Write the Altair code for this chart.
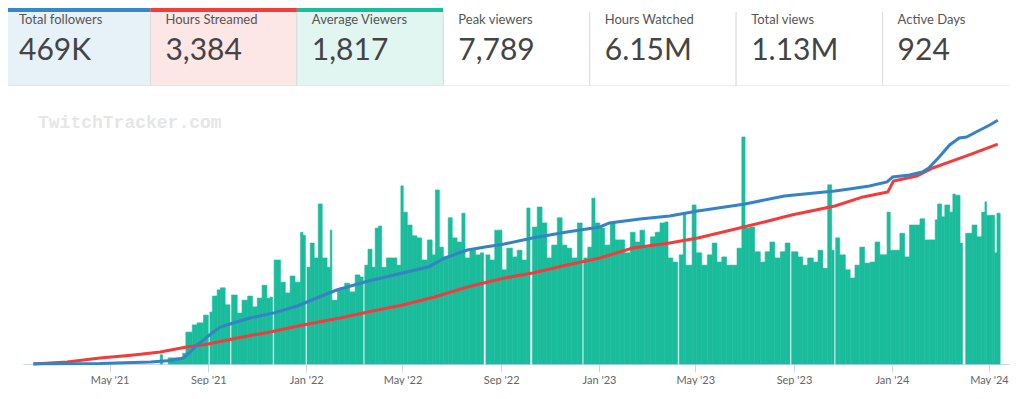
import altair as alt
import pandas as pd

# ---------------- data ----------------
card_labels = ["Total followers", "Hours Streamed", "Average Viewers", "Peak viewers",
               "Hours Watched", "Total views", "Active Days"]
card_values = ["469K", "3,384", "1,817", "7,789", "6.15M", "1.13M", "924"]

tick_months = ["2021-05-01", "2021-09-01", "2022-01-01", "2022-05-01", "2022-09-01",
               "2023-01-01", "2023-05-01", "2023-09-01", "2024-01-01", "2024-05-01"]

watermark = "TwitchTracker.com"

follower_dates = ["2021-01-26", "2021-04-19", "2021-06-21", "2021-07-16", "2021-08-01", "2021-08-09",
                  "2021-08-18", "2021-08-26", "2021-09-01", "2021-09-09", "2021-09-16", "2021-10-02",
                  "2021-10-23", "2021-11-21", "2021-12-21", "2022-01-14", "2022-02-08", "2022-03-15",
                  "2022-05-01", "2022-06-02", "2022-06-23", "2022-07-21", "2022-08-12", "2022-09-05",
                  "2022-10-10", "2022-11-22", "2023-01-02", "2023-01-14", "2023-02-21", "2023-03-30",
                  "2023-05-04", "2023-07-02", "2023-08-20", "2023-10-22", "2023-11-09", "2023-12-04",
                  "2023-12-26", "2024-01-02", "2024-01-23", "2024-02-08", "2024-02-16", "2024-02-29",
                  "2024-03-13", "2024-03-25", "2024-04-03", "2024-04-15", "2024-05-02", "2024-05-12"]
followers_k = [0.3, 1.0, 3.8, 6.7, 11.5, 23, 36.6, 46, 54, 63.5, 71, 79,
               88.5, 98, 111.6, 127, 142.4, 157.8, 175, 186.7, 204, 219.4, 225, 231,
               242.5, 254, 263.7, 271.4, 279, 284.8, 294.4, 308, 323.3, 333, 336.8, 342.6,
               350.3, 360, 363.7, 369.5, 377, 398.4, 421.5, 435, 436.9, 446.5, 460, 469]

hours_dates = ["2021-01-26", "2021-03-09", "2021-04-19", "2021-05-31", "2021-07-03", "2021-08-05",
               "2021-09-01", "2021-10-07", "2021-11-17", "2021-12-28", "2022-02-12", "2022-03-19",
               "2022-05-01", "2022-06-10", "2022-07-21", "2022-09-05", "2022-10-10", "2022-11-22",
               "2023-01-02", "2023-02-12", "2023-03-30", "2023-05-04", "2023-06-15", "2023-07-26",
               "2023-08-29", "2023-10-22", "2023-11-26", "2023-12-27", "2024-01-03", "2024-02-01",
               "2024-02-21", "2024-03-13", "2024-04-03", "2024-04-23", "2024-05-12"]
hours_streamed = [0, 31, 92, 139, 185, 262, 308, 400, 493, 600, 708, 801,
                  909, 1032, 1186, 1324, 1401, 1525, 1632, 1786, 1863, 1940, 2064, 2187,
                  2295, 2433, 2572, 2649, 2818, 2895, 3018, 3111, 3203, 3296, 3384]

bar_starts = [
    "2021-07-03", "2021-07-06", "2021-07-13", "2021-07-31",
    "2021-08-04", "2021-08-12", "2021-08-18", "2021-08-26", "2021-09-01",
    "2021-09-03", "2021-09-06", "2021-09-12", "2021-09-16", "2021-09-22", "2021-09-28",
    "2021-09-30", "2021-10-07", "2021-10-13", "2021-10-20", "2021-10-26", "2021-11-01", "2021-11-07",
    "2021-11-13", "2021-11-17", "2021-11-20",
    "2021-11-22", "2021-11-30", "2021-12-06", "2021-12-12", "2021-12-18", "2021-12-25", "2021-12-28",
    "2021-12-31",
    "2022-01-02", "2022-01-06", "2022-01-11", "2022-01-16", "2022-01-21", "2022-01-27", "2022-01-31",
    "2022-02-02", "2022-02-09", "2022-02-12", "2022-02-18", "2022-02-24", "2022-03-03", "2022-03-09",
    "2022-03-13",
    "2022-03-15", "2022-03-19", "2022-03-24", "2022-03-28", "2022-04-01", "2022-04-05", "2022-04-11",
    "2022-04-18", "2022-04-24", "2022-04-29", "2022-05-02", "2022-05-07", "2022-05-13", "2022-05-19",
    "2022-05-25", "2022-06-01", "2022-06-07", "2022-06-11", "2022-06-16", "2022-06-21", "2022-06-27",
    "2022-07-02", "2022-07-08", "2022-07-14", "2022-07-18", "2022-07-24", "2022-07-31", "2022-08-06",
    "2022-08-10",
    "2022-08-13", "2022-08-18", "2022-08-24", "2022-08-31", "2022-09-02", "2022-09-08", "2022-09-15",
    "2022-09-21", "2022-09-27", "2022-10-03", "2022-10-07",
    "2022-10-10", "2022-10-16", "2022-10-22", "2022-10-28", "2022-11-03", "2022-11-10", "2022-11-16",
    "2022-11-22", "2022-11-28", "2022-12-05", "2022-12-11",
    "2022-12-13", "2022-12-18", "2022-12-23", "2022-12-27", "2023-01-02", "2023-01-08", "2023-01-15",
    "2023-01-21", "2023-01-27", "2023-02-02", "2023-02-09", "2023-02-15", "2023-02-21", "2023-02-27",
    "2023-03-06", "2023-03-12", "2023-03-18", "2023-03-24", "2023-03-28", "2023-04-03", "2023-04-09",
    "2023-04-11", "2023-04-16", "2023-04-19", "2023-04-27", "2023-05-02", "2023-05-09", "2023-05-16",
    "2023-05-22", "2023-05-28", "2023-06-03", "2023-06-09", "2023-06-16", "2023-06-22", "2023-06-28",
    "2023-07-02", "2023-07-08", "2023-07-14", "2023-07-21", "2023-07-27", "2023-08-02", "2023-08-08",
    "2023-08-15", "2023-08-21", "2023-08-27",
    "2023-08-29", "2023-09-06", "2023-09-12", "2023-09-18", "2023-09-25", "2023-10-01", "2023-10-07",
    "2023-10-13", "2023-10-18", "2023-10-21",
    "2023-10-23", "2023-10-28", "2023-11-04", "2023-11-10", "2023-11-16", "2023-11-22", "2023-11-28",
    "2023-12-05", "2023-12-11", "2023-12-17", "2023-12-26", "2023-12-30", "2024-01-05", "2024-01-11",
    "2024-01-17", "2024-01-23", "2024-01-30", "2024-02-05", "2024-02-11", "2024-02-17", "2024-02-24",
    "2024-02-27", "2024-03-03", "2024-03-07", "2024-03-13", "2024-03-17", "2024-03-20", "2024-03-26",
    "2024-03-29",
    "2024-04-02", "2024-04-10", "2024-04-16", "2024-04-22", "2024-04-26", "2024-04-28", "2024-05-05",
    "2024-05-08", "2024-05-11",
]
bar_viewers = [
    180, 0, 120, 210,
    620, 760, 800, 950, 0,
    1010, 1320, 1440, 1480, 1150, 0,
    1340, 990, 1240, 1320, 1110, 1280, 1530,
    1280, 1300, 0,
    2020, 1590, 1380, 1710, 1590, 2560, 2500,
    0,
    1880, 2350, 2060, 3110, 2060, 1880, 2600,
    1240, 1440, 1480, 1570, 1400, 1730, 1690,
    0,
    1920, 2230, 1880, 2640, 2680, 1880, 2060,
    2060, 1920, 3460, 2950, 2700, 2490, 2450,
    2020, 2410, 2120, 3380, 2270, 2080, 2840,
    2450, 2370, 2930, 2060, 2210, 2120, 2160,
    0,
    2120, 2020, 2600, 2600, 1830, 2250, 2080,
    2210, 2020, 3030, 0,
    2660, 3050, 2740, 2060, 2310, 2840, 2310,
    2250, 2060, 2740, 0,
    2060, 2270, 3220, 2740, 2640, 2310, 2740,
    2410, 2410, 2160, 2560, 2370, 2600, 2270,
    2470, 2560, 2740, 2760, 2060, 1980, 0,
    2120, 2930, 1920, 3090, 2160, 1920, 2120,
    2350, 1980, 2080, 1920, 1920, 2250, 4410,
    2640, 2660, 2180, 1980, 2180, 2370, 2060,
    2180, 2350, 0,
    2180, 2080, 1920, 2060, 1980, 2210, 1860,
    3480, 2210, 0,
    2450, 2120, 1830, 1670, 1920, 2270, 1960,
    1980, 2370, 2120, 2950, 2210, 2210, 2540,
    2080, 2700, 2700, 2820, 2410, 2410, 2800,
    3110, 2860, 3090, 2950, 3300, 3280, 2350,
    0,
    2540, 2700, 2470, 2950, 3150, 2890, 2890,
    2160, 2930,
]
bar_last_end = "2024-05-15"

# ---------------- styles ----------------
FONT = "Lato"
card_bg = ["#e6f1f8", "#fde6e6", "#e2f6f1", "#ffffff", "#ffffff", "#ffffff", "#ffffff"]
card_strip = ["#3a86c6", "#f53c3c", "#1bbc9b", "#ffffff", "#ffffff", "#ffffff", "#ffffff"]
BAR_COLOR = "#1abc9c"
BLUE = "#3583c5"
RED = "#f33b3b"
W = 1002

# ---------------- cards row ----------------
cards_df = pd.DataFrame({"idx": list(range(len(card_labels))),
                         "label": card_labels, "value": card_values})
xcard = alt.X("idx:Q", scale=alt.Scale(domain=[0.0273, 6.870], nice=False, zero=False), axis=None)
cbase = alt.Chart(cards_df).transform_calculate(idx_end="datum.idx + 1")

card_bg_layer = cbase.mark_rect(stroke="#dcdcdc", strokeWidth=1, clip=True).encode(
    x=xcard, x2="idx_end:Q", y=alt.value(0), y2=alt.value(78),
    fill=alt.Fill("label:N", scale=alt.Scale(domain=card_labels, range=card_bg), legend=None))
card_strip_layer = cbase.mark_rect(clip=True).encode(
    x=xcard, x2="idx_end:Q", y=alt.value(0), y2=alt.value(4),
    fill=alt.Fill("label:N", scale=alt.Scale(domain=card_labels, range=card_strip), legend=None))
card_label_layer = cbase.mark_text(align="left", baseline="alphabetic", dx=15, font=FONT,
                                   fontSize=13, color="#555555").encode(
    x=xcard, y=alt.value(16), text="label:N")
card_value_layer = cbase.mark_text(align="left", baseline="alphabetic", dx=15, font=FONT,
                                   fontSize=30, color="#444444").encode(
    x=xcard, y=alt.value(52), text="value:N")

cards = alt.layer(card_bg_layer, card_strip_layer, card_label_layer, card_value_layer).resolve_scale(
    fill="independent").properties(width=W, height=78)

# ---------------- main chart ----------------
bars_df = pd.DataFrame({"start": pd.to_datetime(bar_starts), "viewers": bar_viewers})
bars_df["end"] = bars_df["start"].shift(-1)
bars_df.loc[bars_df.index[-1], "end"] = pd.Timestamp(bar_last_end)
bars_df = bars_df[bars_df["viewers"] > 0]

fol_df = pd.DataFrame({"date": pd.to_datetime(follower_dates), "followers": followers_k})
hrs_df = pd.DataFrame({"date": pd.to_datetime(hours_dates), "hours": hours_streamed})
wm_df = pd.DataFrame({"t": [watermark]})


def dt(s):
    y, m, d = (int(p) for p in s.split("-"))
    return alt.DateTime(year=y, month=m, date=d)


xscale = alt.Scale(domain=[dt("2021-01-13"), dt("2024-05-26")], range=[15, 1001])
xaxis = alt.Axis(values=[dt(s) for s in tick_months], format="%b '%y", labelFont=FONT,
                 labelFontSize=11, labelColor="#666666", tickColor="#ccd6eb", tickSize=8,
                 domainColor="#ccd6eb", domainWidth=1, grid=False, title=None, labelPadding=2,
                 labelFlush=False)

bars = alt.Chart(bars_df).mark_bar(color=BAR_COLOR, stroke=BAR_COLOR, strokeWidth=0.6).encode(
    x=alt.X("start:T", scale=xscale, axis=xaxis),
    x2="end:T",
    y=alt.Y("viewers:Q", scale=alt.Scale(domain=[0, 5400], nice=False), axis=None),
    y2=alt.datum(0))

red = alt.Chart(hrs_df).mark_line(color=RED, strokeWidth=3).encode(
    x=alt.X("date:T", scale=xscale, axis=xaxis),
    y=alt.Y("hours:Q", scale=alt.Scale(domain=[0, 4280], nice=False), axis=None))

blue = alt.Chart(fol_df).mark_line(color=BLUE, strokeWidth=3).encode(
    x=alt.X("date:T", scale=xscale, axis=xaxis),
    y=alt.Y("followers:Q", scale=alt.Scale(domain=[0, 535], nice=False), axis=None))

wm = alt.Chart(wm_df).mark_text(align="left", baseline="middle", font="Liberation Mono",
                                fontSize=18, fontWeight="bold", color="#e6e6e6").encode(
    x=alt.value(30), y=alt.value(37), text="t:N")

main = alt.layer(bars, red, blue, wm).resolve_scale(y="independent").properties(width=W, height=278)

chart = alt.vconcat(cards, main, spacing=0).properties(
    padding=0, background="white").configure_view(stroke=None)

chart.save("out.html", embed_options={"renderer": "svg", "actions": False})
